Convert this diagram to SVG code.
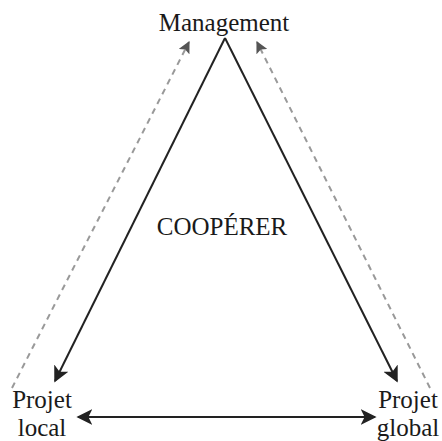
<svg xmlns="http://www.w3.org/2000/svg" width="442" height="441" viewBox="0 0 442 441">
<style>
text{font-family:"Liberation Serif","Times New Roman",serif;font-size:25px;fill:#1a1a1a}
.s{stroke:#222;stroke-width:2;fill:none}
.d{stroke:#999;stroke-width:2;fill:none;stroke-dasharray:6 5}
</style>
<defs>
<marker id="a" viewBox="0 0 10 10" refX="9" refY="5" markerWidth="8" markerHeight="8" markerUnits="strokeWidth" orient="auto-start-reverse"><path d="M0,0L10,5L0,10L2.5,5z" fill="#222"/></marker>
<marker id="g" viewBox="0 0 10 10" refX="9" refY="5" markerWidth="6" markerHeight="6" markerUnits="strokeWidth" orient="auto"><path d="M0,0L10,5L0,10L2,5z" fill="#555"/></marker>
</defs>
<rect width="442" height="441" fill="#fff"/>
<g id="connectors">
<line class="s" x1="225" y1="38" x2="55" y2="381" marker-end="url(#a)"/>
<line class="s" x1="225" y1="38" x2="397" y2="381" marker-end="url(#a)"/>
<line class="s" x1="78" y1="417" x2="375" y2="417" marker-start="url(#a)" marker-end="url(#a)"/>
<line class="d" x1="12" y1="388" x2="189" y2="42" marker-end="url(#g)"/>
<line class="d" x1="430" y1="388" x2="257" y2="42" marker-end="url(#g)"/>
</g>
<g id="management"><text x="224" y="31" text-anchor="middle">Management</text></g>
<g id="cooperer"><text x="222" y="235" text-anchor="middle">COOPÉRER</text></g>
<g id="projet-local"><text x="42" y="408" text-anchor="middle">Projet</text><text x="42" y="436" text-anchor="middle">local</text></g>
<g id="projet-global"><text x="408" y="408" text-anchor="middle">Projet</text><text x="408" y="436" text-anchor="middle">global</text></g>
</svg>
